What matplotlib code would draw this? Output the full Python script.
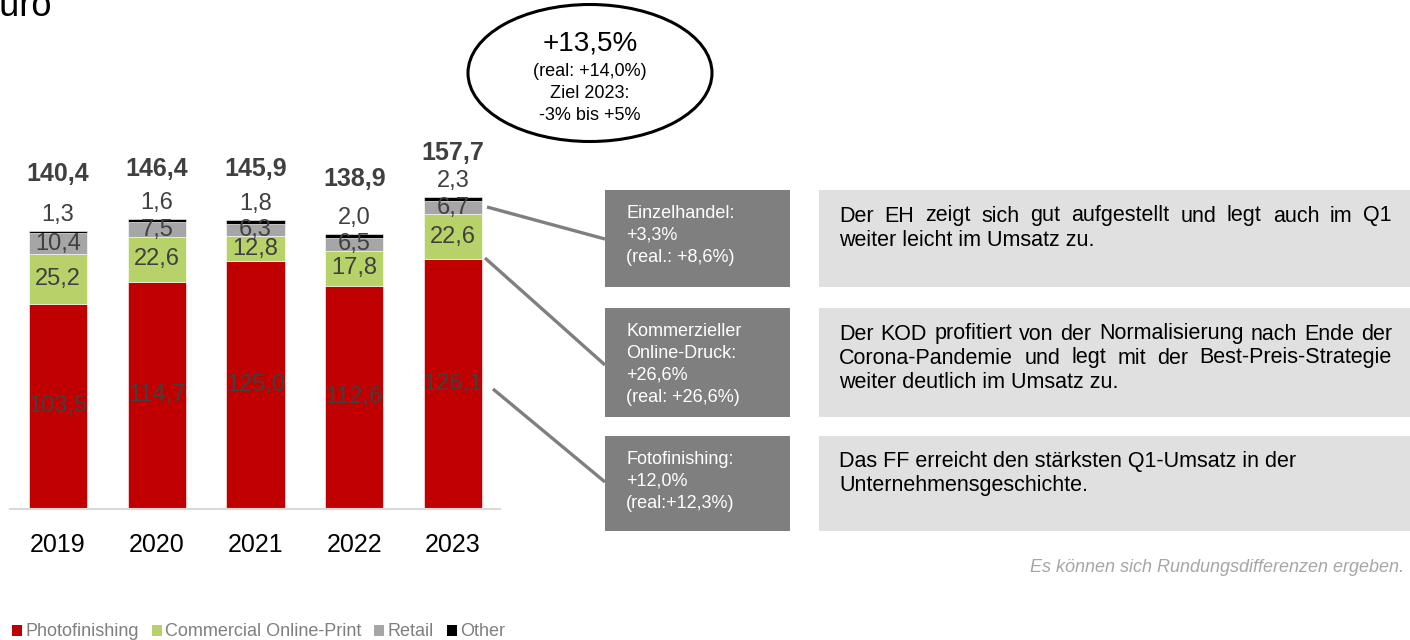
import numpy as np
import matplotlib.pyplot as plt
from matplotlib.patches import Ellipse, Rectangle, Patch

plt.rcParams['font.family'] = ['Liberation Sans', 'DejaVu Sans']

# chart data
years = ['2019', '2020', '2021', '2022', '2023']
photofinishing = [103.5, 114.7, 125.0, 112.6, 126.1]
online_print = [25.2, 22.6, 12.8, 17.8, 22.6]
retail = [10.4, 7.5, 6.3, 6.5, 6.7]
other = [1.3, 1.6, 1.8, 2.0, 2.3]
totals = [140.4, 146.4, 145.9, 138.9, 157.7]

segment_names = ['Photofinishing', 'Commercial Online-Print', 'Retail', 'Other']
segment_colors = ['#c00000', '#b8d26a', '#a6a6a6', '#000000']

growth_lines = ['+13,5%', '(real: +14,0%)', 'Ziel 2023:', '-3% bis +5%']

box_labels = [['Einzelhandel:', '+3,3%', '(real.: +8,6%)'],
              ['Kommerzieller', 'Online-Druck:', '+26,6%', '(real: +26,6%)'],
              ['Fotofinishing:', '+12,0%', '(real:+12,3%)']]
box_comments = [['Der EH zeigt sich gut aufgestellt und legt auch im Q1',
                 'weiter leicht im Umsatz zu.'],
                ['Der KOD profitiert von der Normalisierung nach Ende der',
                 'Corona-Pandemie und legt mit der Best-Preis-Strategie',
                 'weiter deutlich im Umsatz zu.'],
                ['Das FF erreicht den stärksten Q1-Umsatz in der',
                 'Unternehmensgeschichte.']]
box_justified = [True, True, False]
footnote = 'Es können sich Rundungsdifferenzen ergeben.'

# layout (pixels)
box_rows = [(190, 287), (308, 417), (436, 531)]
connectors = [((487, 207), (605, 239)), ((485, 258), (605, 365)), ((493, 389), (605, 482))]
total_gap_px = [57, 50, 51, 55, 44]

label_color = '#404040'


def fmt(v):
    return f'{v:.1f}'.replace('.', ',')


fig = plt.figure(figsize=(14.1, 6.4), dpi=100)
W, H = 1410, 640

# bar chart axes
ax = fig.add_axes([10 / W, (H - 509) / H, 490 / W, 317 / H])
x = np.arange(len(years))
bottom = np.zeros(len(years))
for vals, color, name in zip([photofinishing, online_print, retail, other], segment_colors, segment_names):
    bars = ax.bar(x, vals, 0.59, bottom=bottom, color=color, edgecolor='white', linewidth=0.4)
    if name != 'Other':
        ax.bar_label(bars, labels=[fmt(v) for v in vals], label_type='center',
                     fontsize=17, color=label_color)
    bottom += np.array(vals)

# "other" values above the bars, totals on top
for xi, top, v, t, gap in zip(x, bottom, other, totals, total_gap_px):
    ax.annotate(fmt(v), (xi, top), xytext=(0, 16 * 0.72), textcoords='offset points',
                ha='center', va='center', fontsize=17, color=label_color, annotation_clip=False)
    ax.annotate(fmt(t), (xi, top), xytext=(0, gap * 0.72), textcoords='offset points',
                ha='center', va='center', fontsize=18, fontweight='bold', color=label_color,
                annotation_clip=False)

ax.set_xlim(-0.486, 4.476)
ax.set_ylim(0, 160)
ax.set_xticks(x, years)
ax.set_yticks([])
ax.tick_params(axis='x', length=0, labelsize=18, pad=17)
for s in ['top', 'right', 'left']:
    ax.spines[s].set_visible(False)
ax.spines['bottom'].set_color('#d9d9d9')
ax.spines['bottom'].set_linewidth(1.5)
ax.patch.set_alpha(0)

# overlay in pixel coordinates for the annotations
ov = fig.add_axes([0, 0, 1, 1])
ov.set_xlim(0, W)
ov.set_ylim(H, 0)
ov.axis('off')

ov.text(52, 16, 'Euro', ha='right', va='baseline', fontsize=26)

# growth ellipse
ov.add_patch(Ellipse((590, 73), 244, 137, facecolor='white', edgecolor='black', linewidth=2.2))
for line, y, size in zip(growth_lines, [43, 72, 94, 116], [20, 13, 13, 13]):
    ov.text(590, y, line, ha='center', va='center', fontsize=size)

renderer = fig.canvas.get_renderer()


def put_line(y, line, x0, x1, justify):
    if not justify:
        ov.text(x0, y, line, ha='left', va='center', fontsize=15.5)
        return
    words = line.split()
    texts = [ov.text(0, y, w, ha='left', va='center', fontsize=15.5) for w in words]
    widths = [t.get_window_extent(renderer).width for t in texts]
    gap = (x1 - x0 - sum(widths)) / (len(words) - 1)
    pos = x0
    for t, w in zip(texts, widths):
        t.set_x(pos)
        pos += w + gap


for (top, bot), labels, comments, just, (p0, p1) in zip(box_rows, box_labels, box_comments,
                                                         box_justified, connectors):
    ov.plot([p0[0], p1[0]], [p0[1], p1[1]], color='#7f7f7f', linewidth=2.4, solid_capstyle='butt')
    ov.add_patch(Rectangle((605, top), 185, bot - top, facecolor='#7f7f7f', edgecolor='none'))
    for i, lab in enumerate(labels):
        ov.text(626, top + 23 + 22 * i, lab, ha='left', va='center', fontsize=13, color='white')
    ov.add_patch(Rectangle((819, top), W - 819, bot - top, facecolor='#e0e0e0', edgecolor='none'))
    for i, line in enumerate(comments):
        last = i == len(comments) - 1
        put_line(top + 26 + 24 * i, line, 839, 1392, just and not last)

ov.text(1404, 567, footnote, ha='right', va='center', fontsize=13, style='italic', color='#a6a6a6')

fig.legend(handles=[Patch(facecolor=c) for c in segment_colors], labels=segment_names,
           loc='center left', bbox_to_anchor=(12 / W, 8 / H), ncol=4, frameon=False,
           fontsize=13, handlelength=0.55, handleheight=0.55, handletextpad=0.2,
           columnspacing=0.7, borderpad=0, borderaxespad=0, labelcolor='#7f7f7f')

fig.savefig('out.png', dpi=100)
